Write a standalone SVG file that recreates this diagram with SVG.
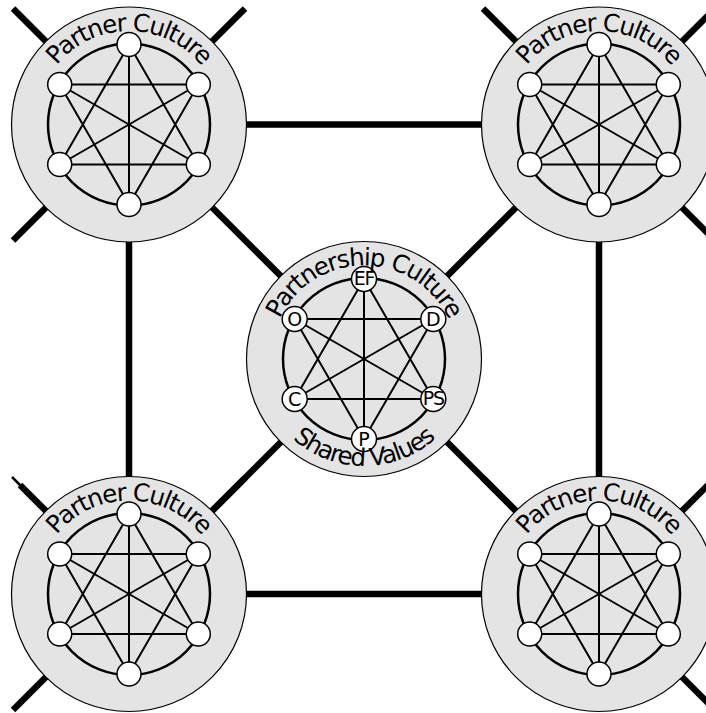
<svg xmlns="http://www.w3.org/2000/svg" xmlns:xlink="http://www.w3.org/1999/xlink" width="706" height="713" viewBox="0 0 706 713">
<style>
.conn{stroke:#000;stroke-width:6.5;fill:none}
.thin{stroke:#000;stroke-width:2.5;fill:none}
.outer{fill:#e4e4e4;stroke:#000;stroke-width:1.2}
.inner{fill:none;stroke:#000;stroke-width:2.5}
.star{fill:none;stroke:#000;stroke-width:2}
.node{fill:#fff;stroke:#000;stroke-width:1.5}
.arc{font-family:'DejaVu Sans','Liberation Sans',sans-serif;font-size:24.5px;letter-spacing:-1.4px;fill:#000}
.nl{font-family:'DejaVu Sans','Liberation Sans',sans-serif;font-size:19px;fill:#000;text-anchor:middle}
</style>
<defs>
<path id="topArc" d="M-93.5,0 A93.5,93.5 0 0 1 93.5,0"/>
<path id="botArc" d="M-107,0 A107,107 0 0 0 107,0"/>
</defs>
<g id="connectors">
<path class="conn" d="M129,124.5 L599,124.5 M129,594 L599,594 M129,124.5 L129,594 M599,124.5 L599,594"/>
<path class="conn" d="M129,124.5 L364,359 M599,124.5 L364,359 M129,594 L364,359 M599,594 L364,359"/>
<path class="conn" d="M129,124.5 L13,8.5 M129,124.5 L245,8.5 M129,124.5 L13,240.5"/>
<path class="conn" d="M599,124.5 L483,8.5 M599,124.5 L715,8.5 M599,124.5 L715,240.5"/>
<path class="conn" d="M129,594 L20,485 M129,594 L245,478 M129,594 L13,710"/>
<path class="thin" d="M20.5,485.5 L12,477"/>
<path class="conn" d="M599,594 L483,478 M599,594 L715,478 M599,594 L715,710"/>
</g>
<g id="partner-tl" transform="translate(129,124.5)">
<circle class="outer" r="117.5"/>
<circle class="inner" r="81"/>
<path class="star" d="M0,-80 L0,80 M-69.3,-40 L69.3,-40 M-69.3,40 L69.3,40 M0,-80 L-69.3,40 M0,-80 L69.3,40 M0,80 L-69.3,-40 M0,80 L69.3,-40 M-69.3,-40 L69.3,40 M69.3,-40 L-69.3,40"/>
<circle class="node" cx="0" cy="-80" r="12"/><circle class="node" cx="69.3" cy="-40" r="12"/><circle class="node" cx="69.3" cy="40" r="12"/><circle class="node" cx="0" cy="80" r="12"/><circle class="node" cx="-69.3" cy="40" r="12"/><circle class="node" cx="-69.3" cy="-40" r="12"/>
<text class="arc"><textPath xlink:href="#topArc" href="#topArc" startOffset="50%" text-anchor="middle">Partner Culture</textPath></text>
</g>
<g id="partner-tr" transform="translate(599,124.5)">
<circle class="outer" r="117.5"/>
<circle class="inner" r="81"/>
<path class="star" d="M0,-80 L0,80 M-69.3,-40 L69.3,-40 M-69.3,40 L69.3,40 M0,-80 L-69.3,40 M0,-80 L69.3,40 M0,80 L-69.3,-40 M0,80 L69.3,-40 M-69.3,-40 L69.3,40 M69.3,-40 L-69.3,40"/>
<circle class="node" cx="0" cy="-80" r="12"/><circle class="node" cx="69.3" cy="-40" r="12"/><circle class="node" cx="69.3" cy="40" r="12"/><circle class="node" cx="0" cy="80" r="12"/><circle class="node" cx="-69.3" cy="40" r="12"/><circle class="node" cx="-69.3" cy="-40" r="12"/>
<text class="arc"><textPath xlink:href="#topArc" href="#topArc" startOffset="50%" text-anchor="middle">Partner Culture</textPath></text>
</g>
<g id="partner-bl" transform="translate(129,594)">
<circle class="outer" r="117.5"/>
<circle class="inner" r="81"/>
<path class="star" d="M0,-80 L0,80 M-69.3,-40 L69.3,-40 M-69.3,40 L69.3,40 M0,-80 L-69.3,40 M0,-80 L69.3,40 M0,80 L-69.3,-40 M0,80 L69.3,-40 M-69.3,-40 L69.3,40 M69.3,-40 L-69.3,40"/>
<circle class="node" cx="0" cy="-80" r="12"/><circle class="node" cx="69.3" cy="-40" r="12"/><circle class="node" cx="69.3" cy="40" r="12"/><circle class="node" cx="0" cy="80" r="12"/><circle class="node" cx="-69.3" cy="40" r="12"/><circle class="node" cx="-69.3" cy="-40" r="12"/>
<text class="arc"><textPath xlink:href="#topArc" href="#topArc" startOffset="50%" text-anchor="middle">Partner Culture</textPath></text>
</g>
<g id="partner-br" transform="translate(599,594)">
<circle class="outer" r="117.5"/>
<circle class="inner" r="81"/>
<path class="star" d="M0,-80 L0,80 M-69.3,-40 L69.3,-40 M-69.3,40 L69.3,40 M0,-80 L-69.3,40 M0,-80 L69.3,40 M0,80 L-69.3,-40 M0,80 L69.3,-40 M-69.3,-40 L69.3,40 M69.3,-40 L-69.3,40"/>
<circle class="node" cx="0" cy="-80" r="12"/><circle class="node" cx="69.3" cy="-40" r="12"/><circle class="node" cx="69.3" cy="40" r="12"/><circle class="node" cx="0" cy="80" r="12"/><circle class="node" cx="-69.3" cy="40" r="12"/><circle class="node" cx="-69.3" cy="-40" r="12"/>
<text class="arc"><textPath xlink:href="#topArc" href="#topArc" startOffset="50%" text-anchor="middle">Partner Culture</textPath></text>
</g>
<g id="partnership" transform="translate(364,359)">
<circle class="outer" r="117.5"/>
<circle class="inner" r="81"/>
<path class="star" d="M0,-80 L0,80 M-69.3,-40 L69.3,-40 M-69.3,40 L69.3,40 M0,-80 L-69.3,40 M0,-80 L69.3,40 M0,80 L-69.3,-40 M0,80 L69.3,-40 M-69.3,-40 L69.3,40 M69.3,-40 L-69.3,40"/>
<circle class="node" cx="0" cy="-80" r="12.5"/><circle class="node" cx="69.3" cy="-40" r="12.5"/><circle class="node" cx="69.3" cy="40" r="12.5"/><circle class="node" cx="0" cy="80" r="12.5"/><circle class="node" cx="-69.3" cy="40" r="12.5"/><circle class="node" cx="-69.3" cy="-40" r="12.5"/>
<text class="nl" x="0" y="-74" font-size="16" letter-spacing="-1.3">EF</text>
<text class="nl" x="69.3" y="-33">D</text>
<text class="nl" x="69.3" y="45.5" font-size="15" letter-spacing="-1.3">PS</text>
<text class="nl" x="0" y="87">P</text>
<text class="nl" x="-69.3" y="47">C</text>
<text class="nl" x="-69.3" y="-33">O</text>
<text class="arc" letter-spacing="-1.6"><textPath xlink:href="#topArc" href="#topArc" startOffset="50%" text-anchor="middle">Partnership Culture</textPath></text>
<text class="arc" letter-spacing="-1.1"><textPath xlink:href="#botArc" href="#botArc" startOffset="50%" text-anchor="middle">Shared Values</textPath></text>
</g>
</svg>
